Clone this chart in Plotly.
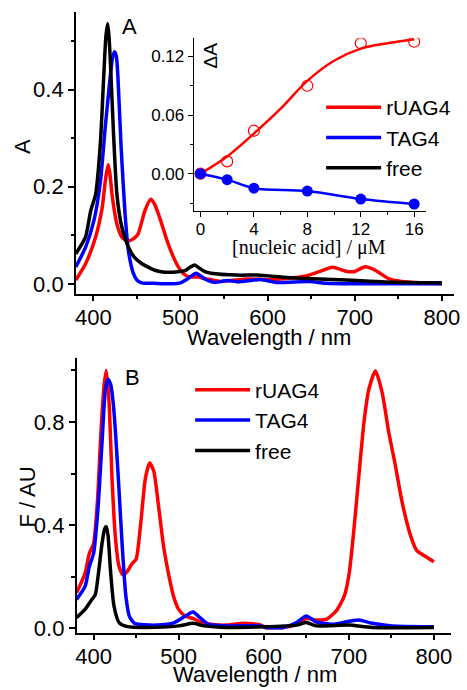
import plotly.graph_objects as go

W, H = 467, 690

# ---------------- Panel A: absorbance spectra ----------------
abs_free_wl = [380, 391, 397, 402.6, 408.2, 412, 414.5, 416.5, 418, 419.5, 423.3, 427.1, 432.8, 440.2, 447,
               455.4, 463.5, 470.4, 482, 497.5, 505, 511, 516.4, 522, 528, 535, 565, 588, 622, 644, 690, 735, 800]
abs_free = [0.062, 0.096, 0.150, 0.184, 0.292, 0.428, 0.510, 0.536, 0.510, 0.461, 0.306, 0.184, 0.116, 0.076, 0.055,
            0.042, 0.034, 0.028, 0.024, 0.025, 0.027, 0.034, 0.039, 0.032, 0.025, 0.022, 0.018, 0.018, 0.013, 0.011,
            0.008, 0.004, 0.002]

abs_tag4_wl = [380, 391.3, 400.7, 408.2, 413.9, 419.5, 422, 424.4, 426.5, 428.2, 432, 436.5, 440.2, 445.9, 450,
               455.4, 470, 490, 500, 508, 518, 528, 539, 554, 566, 592, 610, 648, 667, 704, 750, 800]
abs_tag4 = [0.035, 0.076, 0.130, 0.211, 0.326, 0.428, 0.465, 0.478, 0.468, 0.428, 0.279, 0.143, 0.069, 0.022, 0.008,
            0.002, 0.001, 0.0, 0.002, 0.010, 0.022, 0.010, 0.003, 0.007, 0.004, 0.009, 0.003, 0.005, 0.001, 0.0, 0.0, 0.0]

abs_ruag4_wl = [380, 391.3, 402.6, 410.2, 414, 417, 419, 421.5, 427.1, 432.8, 437, 442, 447, 451.5, 459.1, 465.9,
                470, 474.9, 480, 486, 492, 497.5, 503, 508.8, 514, 520, 530, 546, 576.6, 599, 622, 644, 659.5, 674.6,
                689.6, 699, 712, 723.5, 738.5, 753.7, 775, 800]
abs_ruag4 = [0.008, 0.042, 0.096, 0.157, 0.215, 0.245, 0.228, 0.184, 0.123, 0.096, 0.090, 0.089, 0.094, 0.103, 0.150,
             0.174, 0.165, 0.143, 0.115, 0.082, 0.055, 0.035, 0.022, 0.015, 0.014, 0.014, 0.010, 0.005, 0.010, 0.009,
             0.011, 0.016, 0.025, 0.034, 0.026, 0.025, 0.035, 0.028, 0.011, 0.005, 0.002, 0.0]

# ---------------- Inset: titration ----------------
conc = [0, 2, 4, 8, 12, 16]
dA_ruag4 = [0.0, 0.0126, 0.044, 0.090, 0.1335, 0.135]
dA_tag4 = [0.0, -0.0061, -0.0148, -0.0178, -0.026, -0.031]
fit_conc = [0, 2, 4, 6, 8, 10, 12, 14, 16]
fit_ruag4 = [0.0, 0.0176, 0.041, 0.0665, 0.095, 0.1156, 0.128, 0.1335, 0.1376]

# ---------------- Panel B: fluorescence spectra ----------------
fl_ruag4_wl = [380, 390, 395, 400, 404.6, 408.5, 412.3, 415, 418.2, 422, 426, 430, 434.5, 439.5, 445.4, 450, 455,
               461, 466, 470.8, 476.6, 482.4, 488, 494, 500, 507.6, 517.3, 527, 542.5, 557.7, 577, 596, 602, 623,
               638.6, 650, 661.8, 673.4, 685, 694.7, 700.5, 706.3, 712, 717.9, 723.7, 731.4, 739.2, 746.9, 754.6,
               762.4, 772, 779.8, 789.4, 800]
fl_ruag4 = [0.137, 0.213, 0.290, 0.328, 0.494, 0.749, 0.940, 1.0, 0.877, 0.558, 0.340, 0.239, 0.207, 0.220, 0.251,
            0.267, 0.392, 0.583, 0.641, 0.609, 0.468, 0.315, 0.213, 0.124, 0.073, 0.047, 0.037, 0.022, 0.013, 0.012,
            0.019, 0.013, 0.003, 0.003, 0.015, 0.037, 0.032, 0.034, 0.066, 0.124, 0.213, 0.392, 0.596, 0.800, 0.928,
            0.998, 0.915, 0.762, 0.634, 0.494, 0.366, 0.302, 0.280, 0.258]

fl_tag4_wl = [380, 390, 395, 400, 405, 410, 414, 417, 420, 423, 426, 430, 434, 438, 442, 448, 460, 480, 495, 505,
              517, 525, 535, 557.7, 596, 602, 623, 638.6, 650, 661.8, 681, 700.5, 712, 727.6, 750.8, 800]
fl_tag4 = [0.111, 0.162, 0.239, 0.290, 0.455, 0.723, 0.928, 0.966, 0.947, 0.877, 0.749, 0.532, 0.302, 0.124, 0.047,
           0.019, 0.013, 0.013, 0.022, 0.041, 0.063, 0.041, 0.015, 0.009, 0.009, 0.003, 0.003, 0.022, 0.047, 0.024,
           0.015, 0.027, 0.032, 0.019, 0.009, 0.006]

fl_free_wl = [380, 390, 398, 402, 406, 410, 413, 415, 417, 420, 424, 430, 440, 460, 500, 517, 530, 557.7, 638.6,
              650, 661.8, 700, 727.6, 800]
fl_free = [0.041, 0.073, 0.111, 0.130, 0.220, 0.330, 0.385, 0.394, 0.360, 0.220, 0.086, 0.022, 0.006, 0.003, 0.009,
           0.019, 0.009, 0.003, 0.012, 0.022, 0.009, 0.012, 0.003, 0.003]

series_names = ["rUAG4", "TAG4", "free"]
colors = {"rUAG4": "#ff0000", "TAG4": "#0000ff", "free": "#000000"}

FONT = "Liberation Sans, Arial, sans-serif"
SERIF = "Liberation Serif, Times New Roman, serif"
LW = 3.5

fig = go.Figure()

abs_sets = {"rUAG4": (abs_ruag4_wl, abs_ruag4), "TAG4": (abs_tag4_wl, abs_tag4), "free": (abs_free_wl, abs_free)}
for name in series_names:
    xs, ys = abs_sets[name]
    fig.add_trace(go.Scatter(x=xs, y=ys, mode="lines", name=name, legend="legend",
                             line=dict(color=colors[name], width=LW, shape="spline", smoothing=0.6),
                             xaxis="x", yaxis="y"))

fl_sets = {"rUAG4": (fl_ruag4_wl, fl_ruag4), "TAG4": (fl_tag4_wl, fl_tag4), "free": (fl_free_wl, fl_free)}
for name in series_names:
    xs, ys = fl_sets[name]
    fig.add_trace(go.Scatter(x=xs, y=ys, mode="lines", name=name, legend="legend2",
                             line=dict(color=colors[name], width=LW, shape="spline", smoothing=0.6),
                             xaxis="x2", yaxis="y2"))

# inset
fig.add_trace(go.Scatter(x=fit_conc, y=fit_ruag4, mode="lines", showlegend=False,
                         line=dict(color="#ff0000", width=2.5, shape="spline"), xaxis="x3", yaxis="y3"))
fig.add_trace(go.Scatter(x=conc, y=dA_ruag4, mode="markers", showlegend=False,
                         marker=dict(symbol="circle-open", size=11, color="#ff0000", line=dict(width=1.2)),
                         xaxis="x3", yaxis="y3"))
fig.add_trace(go.Scatter(x=conc, y=dA_tag4, mode="lines+markers", showlegend=False,
                         line=dict(color="#0000ff", width=2.5, shape="spline"),
                         marker=dict(symbol="circle", size=11, color="#0000ff"),
                         xaxis="x3", yaxis="y3"))


def px(x):
    return x / W


def py(y):
    return 1 - y / H


axis_common = dict(showline=True, linecolor="black", linewidth=1.5, ticks="outside", tickcolor="black",
                   tickwidth=1.5, showgrid=False, zeroline=False, mirror=False,
                   tickfont=dict(family=FONT, size=22, color="black"))
minor_common = dict(ticks="outside", ticklen=3.5, tickwidth=1.5, tickcolor="black", showgrid=False)

fig.update_layout(
    width=W, height=H, margin=dict(l=0, r=0, t=0, b=0),
    paper_bgcolor="white", plot_bgcolor="rgba(0,0,0,0)",
    font=dict(family=FONT, size=22, color="black"),
    xaxis=dict(domain=[px(76), px(460)], anchor="y", range=[380, 814], tickvals=[400, 500, 600, 700, 800],
               ticklen=6, ticklabelstandoff=-3, minor=dict(dtick=50, tick0=0, **minor_common), **axis_common),
    yaxis=dict(domain=[py(297), py(12)], anchor="x", range=[-0.02, 0.56], tickvals=[0.0, 0.2, 0.4],
               tickformat=".1f", ticklen=6, minor=dict(dtick=0.1, tick0=0, **minor_common), **axis_common),
    xaxis2=dict(domain=[px(76.7), px(456.7)], anchor="y2", range=[380, 820], tickvals=[400, 500, 600, 700, 800],
                ticklen=6, ticklabelstandoff=-3, minor=dict(dtick=50, tick0=0, **minor_common), **axis_common),
    yaxis2=dict(domain=[py(640), py(361.7)], anchor="x2", range=[-0.017, 1.05], tickvals=[0.0, 0.4, 0.8],
                tickformat=".1f", ticklen=6, minor=dict(dtick=0.2, tick0=0, **minor_common), **axis_common),
    xaxis3=dict(domain=[px(195.7), px(431.7)], anchor="y3", range=[-0.5, 16.9], tickvals=[0, 4, 8, 12, 16],
                ticklen=5, ticklabelstandoff=-2,
                minor=dict(dtick=2, tick0=0, ticks="outside", ticklen=3, tickwidth=1.2,
                           tickcolor="black", showgrid=False),
                showline=True, linecolor="black", linewidth=1.2, ticks="outside", tickcolor="black",
                tickwidth=1.2, showgrid=False, zeroline=False, tickfont=dict(family=FONT, size=17, color="black")),
    yaxis3=dict(domain=[py(213.3), py(38.3)], anchor="x3", range=[-0.038, 0.139], tickvals=[0.0, 0.06, 0.12],
                tickformat=".2f", ticklen=5,
                minor=dict(dtick=0.03, tick0=0, ticks="outside", ticklen=3, tickwidth=1.2,
                           tickcolor="black", showgrid=False),
                showline=True, linecolor="black", linewidth=1.2, ticks="outside", tickcolor="black",
                tickwidth=1.2, showgrid=False, zeroline=False, tickfont=dict(family=FONT, size=17, color="black")),
    legend=dict(x=px(325), y=py(88), xanchor="left", yanchor="top", bgcolor="rgba(0,0,0,0)",
                font=dict(family=FONT, size=21, color="black"), itemwidth=55, tracegroupgap=0),
    legend2=dict(x=px(192), y=py(374), xanchor="left", yanchor="top", bgcolor="rgba(0,0,0,0)",
                 font=dict(family=FONT, size=21, color="black"), itemwidth=55, tracegroupgap=0),
)

annotations = [
    dict(text="A", x=px(130), y=py(27), font=dict(size=22)),
    dict(text="B", x=px(133), y=py(382), font=dict(size=22)),
    dict(text="Wavelength / nm", x=px(271.7), y=py(341), font=dict(size=22)),
    dict(text="Wavelength / nm", x=px(258), y=py(682), font=dict(size=22)),
    dict(text="A", x=px(22), y=py(148), font=dict(size=22), textangle=-90),
    dict(text="F / AU", x=px(26.7), y=py(503), font=dict(size=22), textangle=-90),
    dict(text="ΔA", x=px(212.7), y=py(56.7), font=dict(size=19), textangle=-90),
    dict(text="[nucleic acid] / μM", x=px(313), y=py(250), font=dict(size=20, family=SERIF)),
]
for a in annotations:
    fig.add_annotation(xref="paper", yref="paper", showarrow=False, xanchor="center", yanchor="middle",
                       font_color="black", **a)

fig.write_html("out.html", config={"displayModeBar": False},
               post_script="document.body.style.margin='0';")
